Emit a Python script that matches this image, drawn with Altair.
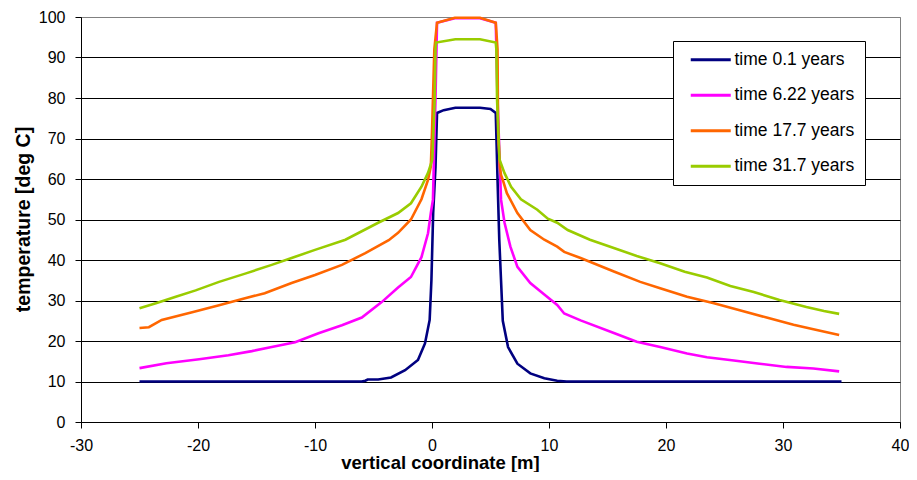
import altair as alt
import pandas as pd

series = ["time 0.1 years", "time 6.22 years", "time 17.7 years", "time 31.7 years"]
colors = ["#000080", "#FF00FF", "#FF6600", "#99CC00"]

x_t01 = [-25, -20, -15, -10, -6.0, -5.7, -5.5, -4.6, -3.5, -2.3, -1.2, -0.6, -0.2, -0.05, 0.1, 0.3, 0.43,
         1.0, 2.0, 4.1, 5.0, 5.45, 5.6, 5.75, 5.9, 6.05, 6.5, 7.3, 8.4, 9.6, 10.7, 11.5, 15, 20, 25, 30, 35]
y_t01 = [10, 10, 10, 10, 10, 10.2, 10.5, 10.5, 11, 12.8, 15.3, 19.4, 25.2, 35, 51.6, 63, 76.3,
         77.0, 77.6, 77.6, 77.3, 76.3, 60, 45, 35, 25, 18.5, 14.4, 12, 10.8, 10.2, 10, 10, 10, 10, 10, 10]

x_t622 = [-25, -22.7, -19.9, -17.4, -15.4, -13.7, -11.7, -9.7, -7.7, -6.0, -4.3, -2.9, -1.8, -0.9, -0.34,
          -0.1, 0.08, 0.3, 0.43, 1.95, 4.1, 5.45, 5.6, 5.9, 6.2, 6.7, 7.3, 8.4, 9.6, 10.7, 11.3, 12.7, 15.6,
          17.5, 19.5, 21.8, 23.5, 25.8, 28.0, 30.3, 32.6, 34.8]
y_t622 = [13.3, 14.5, 15.5, 16.5, 17.5, 18.5, 19.7, 21.9, 23.9, 25.8, 29.6, 33.2, 35.8, 40.7, 46.6,
          51.6, 54.9, 80, 98.6, 99.7, 99.7, 98.6, 80, 54.9, 49.2, 43.3, 38.3, 34.3, 31.5, 28.9, 26.8, 25.1, 21.9,
          19.8, 18.5, 16.9, 16.0, 15.2, 14.4, 13.6, 13.2, 12.5]

x_t177 = [-25, -24.2, -23.1, -20.5, -18.2, -16.3, -14.3, -12.0, -10.0, -7.7, -5.7, -3.7, -2.9, -1.8, -0.9,
          -0.34, -0.1, 0.0, 0.2, 0.43, 1.95, 4.1, 5.45, 5.6, 5.65, 5.8, 5.9, 6.05, 6.4, 7.3, 8.4, 9.6, 10.7,
          11.3, 12.7, 15.6, 17.8, 19.5, 21.8, 24.1, 26.3, 28.6, 30.9, 32.6, 34.8]
y_t177 = [23.2, 23.4, 25.2, 27.1, 28.8, 30.3, 31.8, 34.3, 36.3, 38.8, 41.7, 44.9, 46.7, 50, 55,
          59.8, 63.1, 71.5, 92, 98.6, 99.8, 99.8, 98.6, 92, 71.5, 63, 61, 59.8, 56.5, 51.6, 47.4, 45, 43.3,
          42, 40.5, 37.1, 34.6, 33.0, 30.9, 29.3, 27.6, 25.8, 24.0, 22.9, 21.5]

x_t317 = [-25, -23.6, -21.9, -20.2, -18.2, -15.9, -13.7, -12.0, -10.0, -7.4, -4.6, -2.9, -1.8, -0.9, -0.34,
          0.03, 0.23, 0.3, 0.35, 2.0, 4.1, 5.45, 5.5, 5.56, 5.77, 6.19, 6.76, 7.6, 9.0, 9.9, 10.7, 11.6, 13.5,
          15.6, 17.5, 19.5, 21.6, 23.5, 25.5, 27.5, 29.7, 32.0, 33.5, 34.8]
y_t317 = [28.1, 29.3, 30.9, 32.5, 34.6, 36.7, 38.8, 40.5, 42.5, 45, 49.2, 51.6, 54.0, 58.1, 61.5,
          64.8, 79.6, 92, 93.7, 94.5, 94.5, 93.7, 92, 79.6, 64.8, 61.5, 58.1, 55, 52.4, 50.2, 49.2, 47.4, 45,
          42.9, 41.0, 39.2, 37.1, 35.7, 33.6, 32.1, 30.1, 28.4, 27.4, 26.7]

x_ticks = [-30, -20, -10, 0, 10, 20, 30, 40]
y_ticks = [0, 10, 20, 30, 40, 50, 60, 70, 80, 90, 100]

rows = []
for name, xs, ys in zip(series, [x_t01, x_t622, x_t177, x_t317], [y_t01, y_t622, y_t177, y_t317]):
    for i, (a, b) in enumerate(zip(xs, ys)):
        rows.append({"series": name, "x": a, "y": b, "order": i})
df = pd.DataFrame(rows)

FONT = "Liberation Sans"

base = alt.Chart(df).mark_line(strokeWidth=2.6).encode(
    x=alt.X("x:Q",
            scale=alt.Scale(domain=[-30, 40], nice=False, zero=False),
            axis=alt.Axis(values=x_ticks, grid=False, title="vertical coordinate [m]",
                          labelExpr="'' + datum.value",
                          titleFont=FONT, titleFontSize=18.5, titleFontWeight="bold", titleColor="black",
                          titleX=359, titleY=46, titleAlign="center", titleBaseline="alphabetic",
                          labelFont=FONT, labelFontSize=16, labelColor="black", labelPadding=9,
                          tickSize=6, tickColor="black", domainColor="black", labelFlush=False)),
    y=alt.Y("y:Q",
            scale=alt.Scale(domain=[0, 100], nice=False),
            axis=alt.Axis(values=y_ticks, grid=True,
                          gridColor=alt.condition("datum.value == 100", alt.value("#808080"), alt.value("black")),
                          gridWidth=1, title="temperature [deg C]",
                          titleFont=FONT, titleFontSize=19.5, titleFontWeight="bold", titleColor="black",
                          titleX=-58, titleY=202, titleAngle=-90, titleAlign="center", titleBaseline="middle",
                          labelFont=FONT, labelFontSize=16, labelColor="black", labelPadding=10,
                          tickSize=6, tickColor="black", domainColor="black")),
    color=alt.Color("series:N", sort=series,
                    scale=alt.Scale(domain=series, range=colors),
                    legend=alt.Legend(title=None, orient="none", legendX=592, legendY=24,
                                      fillColor="white", strokeColor="black", padding=10,
                                      symbolType="M-4,0H4", symbolSize=100, symbolStrokeWidth=3,
                                      symbolOffset=19, labelOffset=15, rowPadding=16.5,
                                      labelFont=FONT, labelFontSize=17.5, labelColor="black")),
    order="order:Q",
)

layers = [base.transform_filter(alt.datum.series == s) for s in series]

chart = alt.layer(*layers).properties(
    width=819, height=405,
    autosize=alt.AutoSizeParams(type="none"),
    padding={"left": 73, "top": 9, "right": 9, "bottom": 50},
).configure_view(stroke="#808080", strokeWidth=1)

chart.save("out.html", embed_options={"renderer": "svg", "actions": False})
